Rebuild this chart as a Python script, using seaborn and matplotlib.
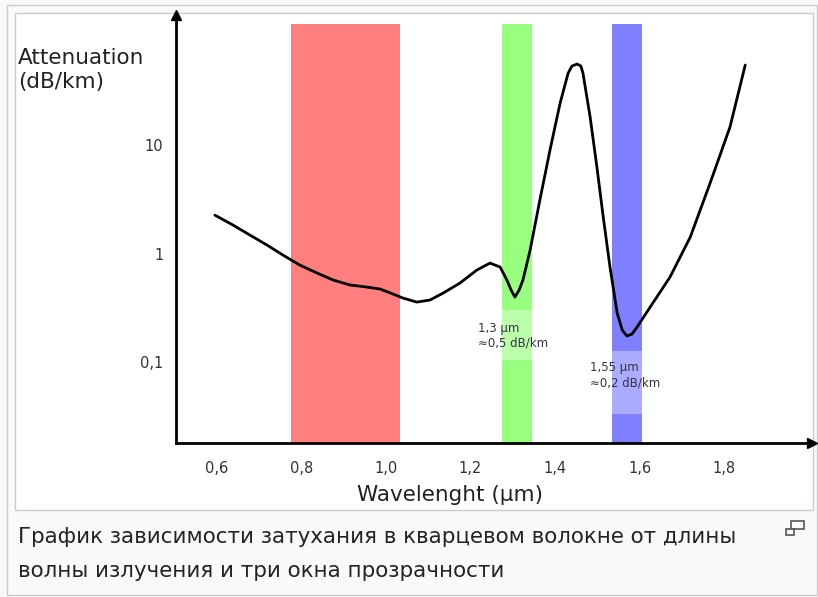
import numpy as np
import pandas as pd
import matplotlib
matplotlib.use("Agg")
import matplotlib.pyplot as plt
from matplotlib.patches import Rectangle
import seaborn as sns

sns.set_style("white")
plt.rcParams['font.family'] = ['DejaVu Sans']

# Data
wavelength = [0.595, 0.638, 0.678, 0.718, 0.756, 0.796, 0.837, 0.875, 0.915, 0.955,
              0.986, 1.017, 1.040, 1.073, 1.104, 1.135, 1.175, 1.215, 1.246, 1.270,
              1.286, 1.296, 1.305, 1.315, 1.324, 1.341, 1.364, 1.388, 1.412, 1.431,
              1.440, 1.452, 1.461, 1.466, 1.483, 1.499, 1.514, 1.530, 1.547, 1.559,
              1.570, 1.582, 1.594, 1.625, 1.672, 1.720, 1.767, 1.814, 1.850]
attenuation = [2.26, 1.83, 1.48, 1.20, 0.969, 0.783, 0.661, 0.570, 0.513, 0.491,
               0.471, 0.423, 0.389, 0.357, 0.373, 0.432, 0.535, 0.705, 0.817, 0.751,
               0.570, 0.461, 0.397, 0.461, 0.570, 1.077, 3.11, 8.99, 24.4, 46.1,
               53.5, 55.8, 53.5, 46.1, 18.1, 6.27, 2.17, 0.751, 0.283, 0.197,
               0.174, 0.181, 0.210, 0.321, 0.607, 1.42, 4.47, 14.7, 54.6]

bands = [(0.775, 1.033, "#ff7f7f"), (1.274, 1.345, "#99ff7f"), (1.534, 1.605, "#7f7fff")]
band_top = 130
xticks = [0.6, 0.8, 1.0, 1.2, 1.4, 1.6, 1.8]
xticklabels = ["0,6", "0,8", "1,0", "1,2", "1,4", "1,6", "1,8"]
yticks = [0.1, 1, 10]
yticklabels = ["0,1", "1", "10"]

W, H = 818, 597
fig = plt.figure(figsize=(W / 100, H / 100), dpi=100, facecolor="#f8f9fa")

def fx(px):
    return px / W

def fy(py):
    return 1 - py / H

# frames
fig.patches.append(Rectangle((fx(7), fy(595)), fx(817) - fx(7), fy(5) - fy(595),
                             transform=fig.transFigure, facecolor="#f8f9fa",
                             edgecolor="#c8ccd1", lw=1, zorder=-2))
fig.patches.append(Rectangle((fx(15), fy(510)), fx(813) - fx(15), fy(13) - fy(510),
                             transform=fig.transFigure, facecolor="white",
                             edgecolor="#c8ccd1", lw=1, zorder=-1))

ax = fig.add_axes([fx(176), fy(443), fx(812) - fx(176), fy(15) - fy(443)])
ax.set_facecolor("none")
ax.set_yscale("log")
ax.set_xlim(0.503, 2.008)
ax.set_ylim(0.01795, 158)

for x0, x1, c in bands:
    ax.add_patch(Rectangle((x0, 0.01795), x1 - x0, band_top - 0.01795,
                           facecolor=c, edgecolor="none", zorder=1))
# lighter label boxes
ax.add_patch(Rectangle((1.274, 0.104), 1.345 - 1.274, 0.30 - 0.104,
                       facecolor="white", alpha=0.35, edgecolor="none", zorder=1.5))
ax.add_patch(Rectangle((1.534, 0.0335), 1.605 - 1.534, 0.126 - 0.0335,
                       facecolor="white", alpha=0.35, edgecolor="none", zorder=1.5))

df = pd.DataFrame({"wavelength": wavelength, "attenuation": attenuation})
sns.lineplot(data=df, x="wavelength", y="attenuation", ax=ax, color="black",
             lw=2, sort=False, zorder=3)
ax.lines[-1].set_solid_joinstyle("round")
ax.lines[-1].set_solid_capstyle("round")

for s in ["top", "right"]:
    ax.spines[s].set_visible(False)
for s in ["left", "bottom"]:
    ax.spines[s].set_color("black")
    ax.spines[s].set_linewidth(2)
ax.plot(1, 0, ">", color="black", ms=7, transform=ax.transAxes, clip_on=False)
ax.plot(0, 1, "^", color="black", ms=7, transform=ax.transAxes, clip_on=False)

ax.set_xticks(xticks)
ax.set_xticklabels(xticklabels)
ax.set_yticks(yticks)
ax.set_yticklabels(yticklabels)
ax.yaxis.set_minor_locator(matplotlib.ticker.NullLocator())
ax.tick_params(axis="both", direction="in", length=7, width=2, color="black",
               labelsize=10.5, labelcolor="#333333")
ax.tick_params(axis="x", pad=13)
ax.tick_params(axis="y", pad=9)
ax.set_xlabel("")
ax.set_ylabel("")

fig.text(fx(18), fy(70), "Attenuation\n(dB/km)", fontsize=15.5, color="#222222",
         va="center", ha="left", linespacing=1.3)
fig.text(fx(450), fy(495), "Wavelenght (µm)", fontsize=15.5, color="#222222",
         va="center", ha="center")

ax.text(1.218, 0.235, "1,3 µm\n≈0,5 dB/km", fontsize=8.5, color="#333344",
        va="top", ha="left", zorder=4)
ax.text(1.483, 0.102, "1,55 µm\n≈0,2 dB/km", fontsize=8.5, color="#333344",
        va="top", ha="left", zorder=4)

fig.text(fx(18), fy(537), "График зависимости затухания в кварцевом волокне от длины",
         fontsize=15.4, color="#222222", va="center", ha="left")
fig.text(fx(18), fy(571), "волны излучения и три окна прозрачности",
         fontsize=15.4, color="#222222", va="center", ha="left")

# enlarge icon
fig.patches.append(Rectangle((fx(791), fy(529)), fx(804) - fx(791), fy(521) - fy(529),
                             transform=fig.transFigure, facecolor="none",
                             edgecolor="#555555", lw=1.2))
fig.patches.append(Rectangle((fx(786), fy(535)), fx(794) - fx(786), fy(529) - fy(535),
                             transform=fig.transFigure, facecolor="#f8f9fa",
                             edgecolor="#555555", lw=1.2))

fig.savefig("out.png", dpi=100, facecolor=fig.get_facecolor())
